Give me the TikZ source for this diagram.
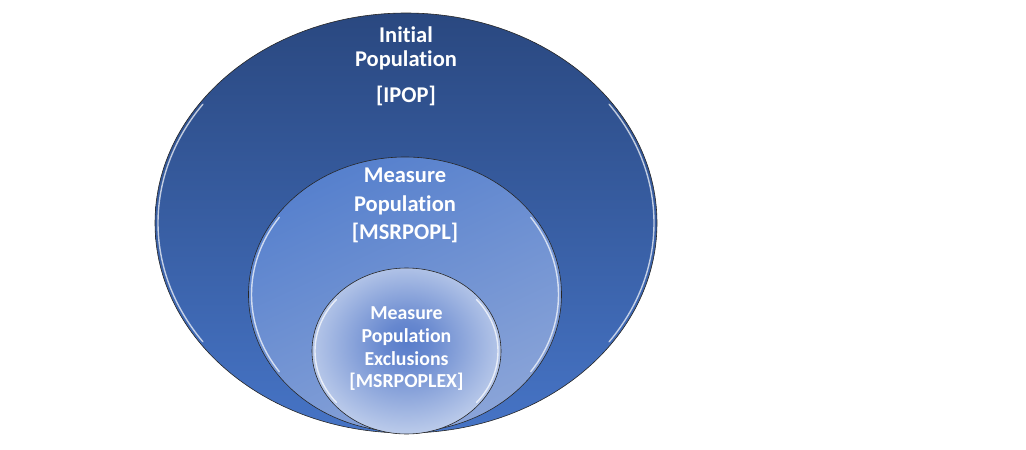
\documentclass[tikz,border=0pt]{standalone}
\usepackage{fontspec}
\setmainfont{Carlito}[Ligatures=NoCommon]
\usetikzlibrary{shapes.geometric}
\definecolor{ipoptop}{RGB}{42,72,128}
\definecolor{ipopbot}{RGB}{70,116,198}
\definecolor{msrtop}{RGB}{86,128,205}
\definecolor{msrbot}{RGB}{138,164,216}
\definecolor{exmid}{RGB}{88,124,202}
\definecolor{exrim}{RGB}{186,202,234}
\pgfdeclareradialshading{exglow}{\pgfpoint{0bp}{3bp}}{color(0bp)=(exmid); color(6bp)=(exmid!85!exrim); color(26bp)=(exrim); color(50bp)=(exrim)}
\begin{document}
\begin{tikzpicture}[x=1pt,y=-1pt,
	pop/.style={ellipse,draw=black!85,line width=0.6pt,inner sep=0pt},
	glint/.style={white,opacity=0.7,line width=1.4pt,line cap=round},
	lbl/.style={text=white,align=center,anchor=base,inner sep=0pt}]
	\useasboundingbox (0,0) rectangle (1026,450);
	% nested populations
	\node[pop,minimum width=502pt,minimum height=420pt,top color=ipoptop,bottom color=ipopbot] (ipop) at (406,223) {};
	\node[pop,minimum width=313pt,minimum height=275pt,top color=msrtop,bottom color=msrbot,shading angle=25] (msrpopl) at (405,294.5) {};
	\node[pop,minimum width=189pt,minimum height=166pt,shading=exglow] (msrpoplex) at (406.5,351) {};
	% glossy rims
	\draw[glint] ([shift={(145:248pt and 207pt)}]ipop.center) arc[start angle=145,end angle=215,x radius=248pt,y radius=207pt];
	\draw[glint] ([shift={(-35:248pt and 207pt)}]ipop.center) arc[start angle=-35,end angle=35,x radius=248pt,y radius=207pt];
	\draw[glint] ([shift={(145:153.5pt and 134.5pt)}]msrpopl.center) arc[start angle=145,end angle=215,x radius=153.5pt,y radius=134.5pt];
	\draw[glint] ([shift={(-35:153.5pt and 134.5pt)}]msrpopl.center) arc[start angle=-35,end angle=35,x radius=153.5pt,y radius=134.5pt];
	\draw[glint] ([shift={(140:91.5pt and 80pt)}]msrpoplex.center) arc[start angle=140,end angle=220,x radius=91.5pt,y radius=80pt];
	\draw[glint] ([shift={(-40:91.5pt and 80pt)}]msrpoplex.center) arc[start angle=-40,end angle=40,x radius=91.5pt,y radius=80pt];
	% labels (base = last line)
	\node[lbl,font=\bfseries\fontsize{22.5}{24}\selectfont] (ipoptxt) at ([yshift=-90pt]ipop.north) {Initial\\Population\\[12pt]{[IPOP]}};
	\node[lbl,font=\bfseries\fontsize{22.5}{28.5}\selectfont] (msrpopltxt) at ([yshift=-83pt]msrpopl.north) {Measure\\Population\\{[MSRPOPL]}};
	\node[lbl,font=\bfseries\fontsize{19.8}{22.7}\selectfont] (msrpoplextxt) at ([yshift=-120pt]msrpoplex.north) {Measure\\Population\\Exclusions\\{[MSRPOPLEX]}};
\end{tikzpicture}
\end{document}
